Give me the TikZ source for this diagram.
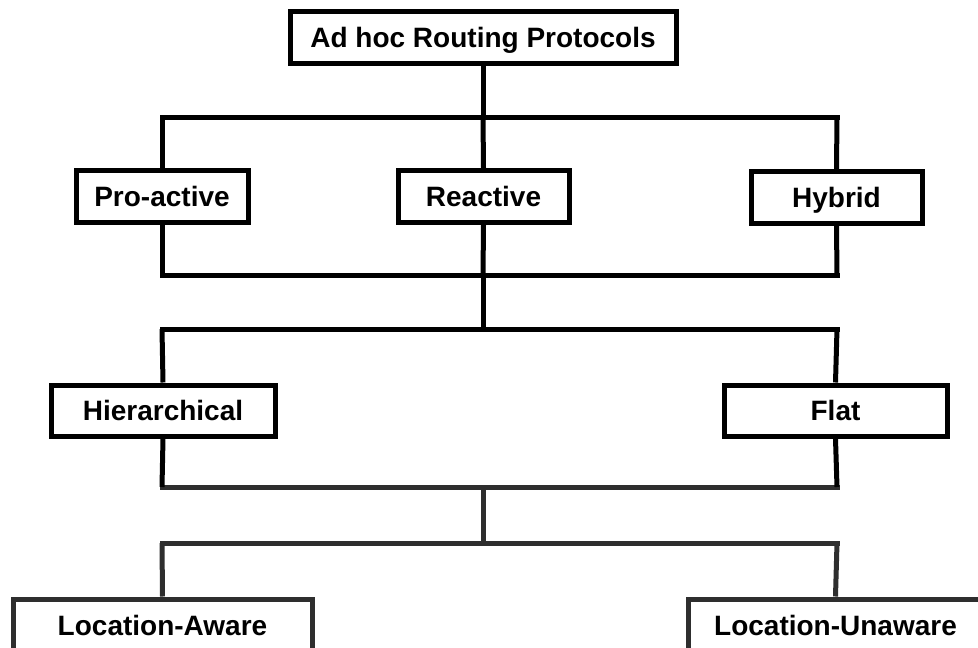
\documentclass[tikz,border=0pt]{standalone}
\usepackage{fontspec}
\setmainfont{Liberation Sans}
\begin{document}
\begin{tikzpicture}[x=1pt,y=-1pt,
  box/.style={draw=black,line width=5pt,fill=white,inner sep=0pt,
    minimum height=52pt,text height=20.4pt,text depth=0pt,
    font=\fontsize{28}{33}\selectfont\bfseries},
  lowbox/.style={box,draw=black!82},
  conn/.style={line width=5pt,draw=black,line cap=rect},
  vconn/.style={conn,line cap=butt},
  lowconn/.style={conn,draw=black!82},
  lowvconn/.style={lowconn,line cap=butt}]
\useasboundingbox (0,0) rectangle (978,648);
\clip (0,0) rectangle (978,648);
\fill[white] (0,0) rectangle (978,648);

% junction coordinates
\coordinate (j1l) at (162,117); \coordinate (j1m) at (483,117); \coordinate (j1r) at (837,117);
\coordinate (j2l) at (162,275); \coordinate (j2m) at (483,275); \coordinate (j2r) at (837,275);
\coordinate (j3l) at (162,329); \coordinate (j3m) at (483,329); \coordinate (j3r) at (837,329);
\coordinate (j4l) at (162,487); \coordinate (j4m) at (483,487); \coordinate (j4r) at (837,487);
\coordinate (j5l) at (162,543); \coordinate (j5m) at (483,543); \coordinate (j5r) at (837,543);

% horizontal connectors
\draw[conn] (j1l) -- (j1r);
\draw[conn] (j2l) -- (j2r);
\draw[conn] (j3l) -- (j3r);
\draw[lowconn] (j4l) -- (j4r);
\draw[lowconn] (j5l) -- (j5r);

% nodes
\node[box,minimum width=386pt] (root) at (483,37.5) {Ad hoc Routing Protocols};
\node[box,minimum width=172pt] (pro) at (162,196) {Pro-active};
\node[box,minimum width=171pt] (rea) at (483.5,196.5) {Reactive};
\node[box,minimum width=171pt] (hyb) at (836.5,197.5) {Hybrid};
\node[box,minimum width=224pt,minimum height=51pt] (hie) at (163,410.5) {Hierarchical};
\node[box,minimum width=223pt,minimum height=51pt] (flat) at (835.5,410.5) {Flat};
\node[lowbox,minimum width=299pt] (la) at (162.5,625) {Location-Aware};
\node[lowbox,minimum width=295pt] (lu) at (835.5,625) {Location-Unaware};

% vertical connectors
\draw[vconn] (root.south) -- (j1m);
\draw[vconn] (j1m) -- (rea.north);
\draw[vconn] (j1l) -- (pro.north);
\draw[vconn] (j1r) -- (hyb.north);
\draw[vconn] (pro.south) -- (j2l);
\draw[vconn] (rea.south) -- (j2m);
\draw[vconn] (hyb.south) -- (j2r);
\draw[vconn] (j2m) -- (j3m);
\draw[vconn] (j3l) -- (hie.north);
\draw[vconn] (j3r) -- (flat.north);
\draw[vconn] (hie.south) -- (j4l);
\draw[vconn] (flat.south) -- (j4r);
\draw[lowvconn] (j4m) -- (j5m);
\draw[lowvconn] (j5l) -- (la.north);
\draw[lowvconn] (j5r) -- (lu.north);
\end{tikzpicture}
\end{document}
